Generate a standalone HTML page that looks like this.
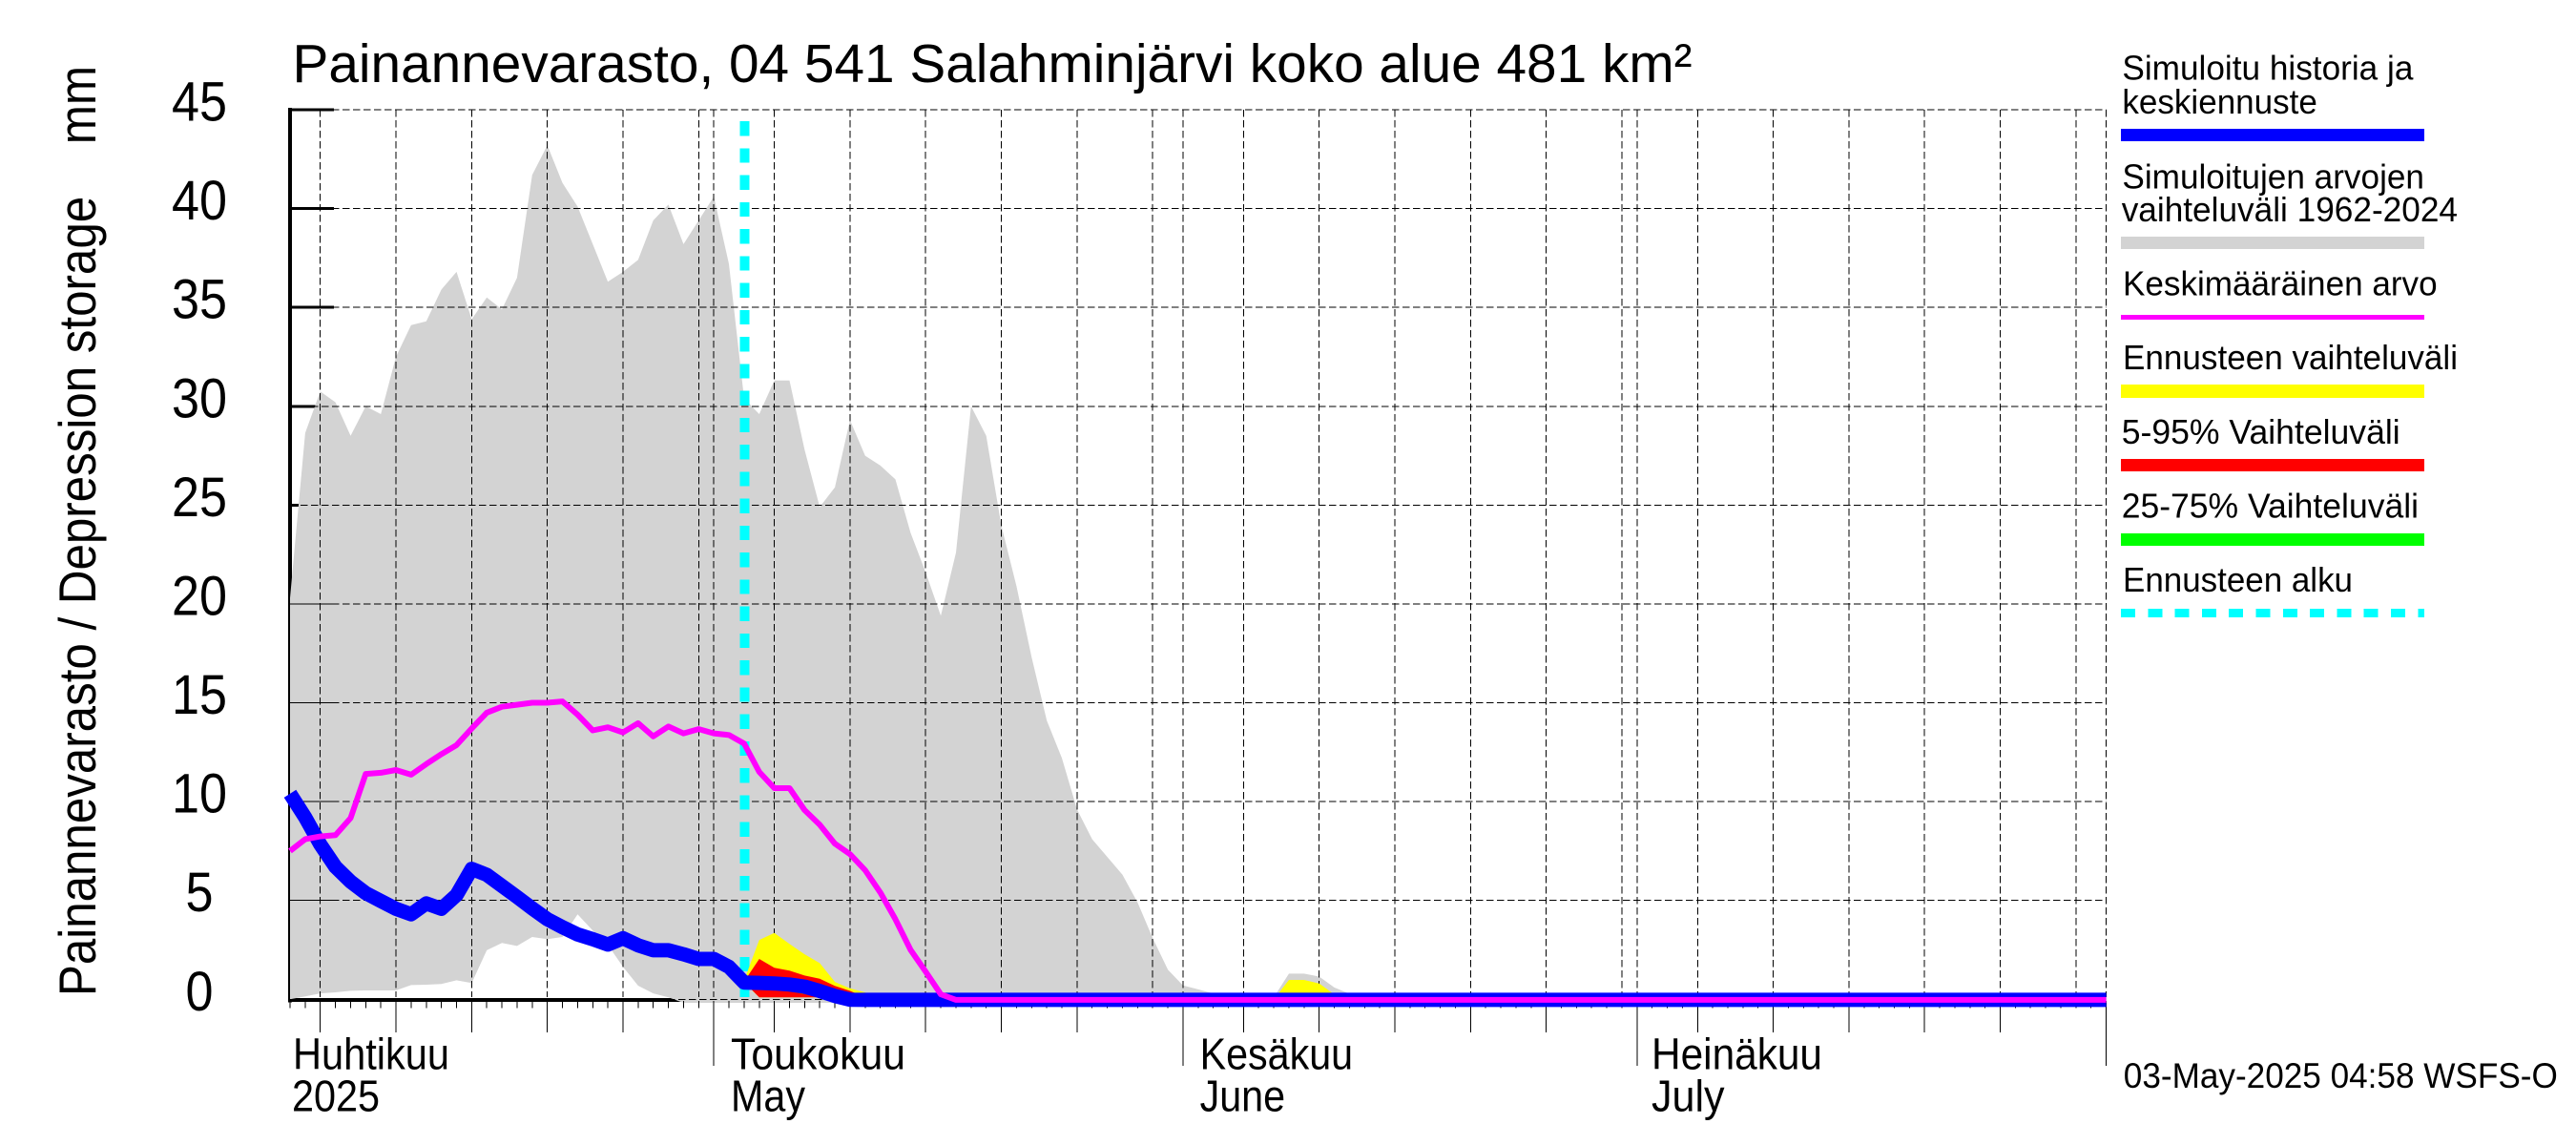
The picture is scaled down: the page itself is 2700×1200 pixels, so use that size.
<!DOCTYPE html>
<html lang="fi">
<head>
<meta charset="utf-8">
<title>Painannevarasto, 04 541 Salahminjärvi koko alue 481 km²</title>
<style>
html,body{margin:0;padding:0;background:#fff;}
svg{display:block;}
text{font-family:"Liberation Sans",Arial,sans-serif;fill:#000;white-space:pre;}
</style>
</head>
<body>
<svg id="chart" xmlns="http://www.w3.org/2000/svg" width="2700" height="1200" viewBox="0 0 2700 1200">
  <rect x="0" y="0" width="2700" height="1200" fill="#fff"/>
  <g id="axes-under"></g>
  <g id="range-layer"></g>
  <g id="grid-layer"></g>
  <g id="forecast-start-layer"></g>
  <g id="forecast-layer"></g>
  <g id="series-layer"></g>
  <g id="label-layer"></g>

  <text x="306.5" y="86" font-size="57" textLength="1467" lengthAdjust="spacingAndGlyphs">Painannevarasto, 04 541 Salahminjärvi koko alue 481 km²</text>
  <text x="100" y="1044" font-size="55" transform="rotate(-90 100 1044)" textLength="975" lengthAdjust="spacingAndGlyphs">Painannevarasto / Depression storage    mm</text>

  <g font-size="46">
    <text x="307" y="1120.5" textLength="164" lengthAdjust="spacingAndGlyphs">Huhtikuu</text>
    <text x="306" y="1164.5" textLength="92" lengthAdjust="spacingAndGlyphs">2025</text>
    <text x="766" y="1120.5" textLength="183" lengthAdjust="spacingAndGlyphs">Toukokuu</text>
    <text x="766" y="1164.5" textLength="78" lengthAdjust="spacingAndGlyphs">May</text>
    <text x="1257.6" y="1120.5" textLength="160.5" lengthAdjust="spacingAndGlyphs">Kesäkuu</text>
    <text x="1257.6" y="1164.5" textLength="89.5" lengthAdjust="spacingAndGlyphs">June</text>
    <text x="1731" y="1120.5" textLength="179" lengthAdjust="spacingAndGlyphs">Heinäkuu</text>
    <text x="1731" y="1164.5" textLength="76.6" lengthAdjust="spacingAndGlyphs">July</text>
  </g>
  <text x="2225.8" y="1140" font-size="37" textLength="455" lengthAdjust="spacingAndGlyphs">03-May-2025 04:58 WSFS-O</text>

  <g font-size="36">
    <g>
      <text x="2224.4" y="83.7" textLength="305" lengthAdjust="spacingAndGlyphs">Simuloitu historia ja</text>
      <text x="2224.4" y="118.8" textLength="204.5" lengthAdjust="spacingAndGlyphs">keskiennuste</text>
      <rect x="2223" y="135" width="318" height="13" fill="#0000ff" shape-rendering="crispEdges"/>
    </g>
    <g>
      <text x="2224.4" y="197.3" textLength="316.6" lengthAdjust="spacingAndGlyphs">Simuloitujen arvojen</text>
      <text x="2223.7" y="232" textLength="352.3" lengthAdjust="spacingAndGlyphs">vaihteluväli 1962-2024</text>
      <rect x="2223" y="248" width="318" height="13" fill="#d3d3d3" shape-rendering="crispEdges"/>
    </g>
    <g>
      <text x="2225" y="309.6" textLength="329.6" lengthAdjust="spacingAndGlyphs">Keskimääräinen arvo</text>
      <rect x="2223" y="330" width="318" height="5" fill="#ff00ff" shape-rendering="crispEdges"/>
    </g>
    <g>
      <text x="2225" y="387" textLength="351" lengthAdjust="spacingAndGlyphs">Ennusteen vaihteluväli</text>
      <rect x="2223" y="403" width="318" height="14" fill="#ffff00" shape-rendering="crispEdges"/>
    </g>
    <g>
      <text x="2223.7" y="464.9" textLength="292" lengthAdjust="spacingAndGlyphs">5-95% Vaihteluväli</text>
      <rect x="2223" y="481" width="318" height="13" fill="#ff0000" shape-rendering="crispEdges"/>
    </g>
    <g>
      <text x="2223.7" y="542.5" textLength="311.3" lengthAdjust="spacingAndGlyphs">25-75% Vaihteluväli</text>
      <rect x="2223" y="559" width="318" height="13" fill="#00ff00" shape-rendering="crispEdges"/>
    </g>
    <g>
      <text x="2225" y="620" textLength="241" lengthAdjust="spacingAndGlyphs">Ennusteen alku</text>
      <line x1="2223" y1="642.5" x2="2541" y2="642.5" stroke="#00ffff" stroke-width="9" stroke-dasharray="15 13.3" shape-rendering="crispEdges"/>
    </g>
  </g>
</svg>

<script>
// ---- axis values ----
const yTickValues = [0, 5, 10, 15, 20, 25, 30, 35, 40, 45];
const yTickLabels = ["0", "5", "10", "15", "20", "25", "30", "35", "40", "45"];
const dayCount = 120;
const gridDays = [2, 7, 12, 17, 22, 27, 28, 32, 37, 42, 47, 52, 57, 59, 63, 68, 73, 78, 83, 88, 89, 93, 98, 103, 108, 113, 118, 120];
const majorTickDays = [2, 7, 12, 17, 22, 32, 37, 42, 47, 52, 63, 68, 73, 78, 83, 93, 98, 103, 108, 113];
const monthTickDays = [28, 59, 89, 120];
const forecastStartDay = 30.05;

// ---- series values, one per day starting 3 April ----
const rangeUpper = [20.3, 28.65, 30.75, 30.2, 28.5, 30.0, 29.6, 32.5, 34.1, 34.3,
  35.9, 36.8, 34.4, 35.5, 34.9, 36.5, 41.7, 43.2, 41.3, 40.1,
  38.2, 36.3, 36.8, 37.4, 39.4, 40.2, 38.2, 39.4, 40.6, 37.2,
  30.4, 29.6, 31.3, 31.3, 27.8, 24.9, 25.9, 29.3, 27.5, 27.0,
  26.3, 23.6, 21.6, 19.4, 22.6, 30.0, 28.5, 23.95, 20.9, 17.3,
  14.1, 12.2, 9.6, 8.1, 7.2, 6.3, 4.9, 3.1, 1.5, 0.7,
  0.5, 0.3, 0.05, 0, 0, 0.1, 1.3, 1.3, 1.15, 0.6,
  0.28, 0, 0];
const rangeLower = [0, 0.15, 0.3, 0.35, 0.43, 0.45, 0.45, 0.45, 0.72, 0.74,
  0.77, 0.96, 0.82, 2.48, 2.85, 2.7, 3.15, 3.04, 3.15, 4.3,
  3.48, 2.75, 1.64, 0.69, 0.3, 0.1, -0.18, -0.18, -0.18, -0.18,
  -0.18, -0.18, -0.18, -0.18, -0.18, -0.18, -0.18, -0.18, -0.18, -0.18,
  -0.18, -0.18, -0.18, -0.18, -0.18, -0.18, -0.18, -0.18, -0.18, -0.18,
  -0.18, -0.18, -0.18, -0.18, -0.18, -0.18, -0.18, -0.18, -0.18, -0.18,
  -0.18, -0.18, -0.18, -0.18, -0.18, -0.18, -0.18, -0.18, -0.18, -0.18,
  -0.18, -0.18, -0.18];
const meanValues = [7.5, 8.1, 8.24, 8.3, 9.17, 11.4, 11.46, 11.6, 11.36, 11.9,
  12.4, 12.86, 13.7, 14.5, 14.8, 14.9, 15.0, 15.0, 15.07, 14.4,
  13.6, 13.76, 13.5, 13.97, 13.3, 13.8, 13.45, 13.67, 13.45, 13.37,
  12.94, 11.5, 10.68, 10.68, 9.57, 8.83, 7.87, 7.34, 6.53, 5.4,
  4.05, 2.5, 1.4, 0.25, -0.03, -0.03, -0.03, -0.03, -0.03, -0.03,
  -0.03, -0.03, -0.03, -0.03, -0.03, -0.03, -0.03, -0.03, -0.03, -0.03,
  -0.03, -0.03, -0.03, -0.03, -0.03, -0.03, -0.03, -0.03, -0.03, -0.03,
  -0.03, -0.03, -0.03, -0.03, -0.03, -0.03, -0.03, -0.03, -0.03, -0.03,
  -0.03, -0.03, -0.03, -0.03, -0.03, -0.03, -0.03, -0.03, -0.03, -0.03,
  -0.03, -0.03, -0.03, -0.03, -0.03, -0.03, -0.03, -0.03, -0.03, -0.03,
  -0.03, -0.03, -0.03, -0.03, -0.03, -0.03, -0.03, -0.03, -0.03, -0.03,
  -0.03, -0.03, -0.03, -0.03, -0.03, -0.03, -0.03, -0.03, -0.03, -0.03, -0.03];
const historyValues = [10.4, 9.2, 7.84, 6.7, 5.95, 5.37, 4.97, 4.58, 4.3, 4.85,
  4.58, 5.27, 6.6, 6.3, 5.74, 5.18, 4.6, 4.05, 3.65, 3.28,
  3.04, 2.77, 3.09, 2.73, 2.48, 2.48, 2.28, 2.04, 2.04, 1.64,
  0.85, 0.83, 0.8, 0.75, 0.64, 0.42, 0.17, -0.02, -0.03, -0.03,
  -0.03, -0.03, -0.03, -0.03, -0.03, -0.03, -0.03, -0.03, -0.03, -0.03,
  -0.03, -0.03, -0.03, -0.03, -0.03, -0.03, -0.03, -0.03, -0.03, -0.03,
  -0.03, -0.03, -0.03, -0.03, -0.03, -0.03, -0.03, -0.03, -0.03, -0.03,
  -0.03, -0.03, -0.03, -0.03, -0.03, -0.03, -0.03, -0.03, -0.03, -0.03,
  -0.03, -0.03, -0.03, -0.03, -0.03, -0.03, -0.03, -0.03, -0.03, -0.03,
  -0.03, -0.03, -0.03, -0.03, -0.03, -0.03, -0.03, -0.03, -0.03, -0.03,
  -0.03, -0.03, -0.03, -0.03, -0.03, -0.03, -0.03, -0.03, -0.03, -0.03,
  -0.03, -0.03, -0.03, -0.03, -0.03, -0.03, -0.03, -0.03, -0.03, -0.03, -0.03];

// ---- forecast bands ----
const bandDays = [30, 31, 32, 33, 34, 35, 36, 37, 38, 39];
const yellowUpper = [0.95, 3.0, 3.36, 2.8, 2.28, 1.83, 0.88, 0.55, 0.35, 0];
const yellowLower = [0.85, 0.1, 0.1, 0.1, 0.1, 0.1, 0.05, 0, 0, 0];
const redUpper = [0.9, 2.04, 1.6, 1.45, 1.2, 1.04, 0.68, 0.43, 0.1, 0];
const redLower = [0.87, 0.1, 0.1, 0.1, 0.1, 0.1, 0.05, 0, 0, 0];
const greenUpper = [0.85, 0.9, 0.9, 0.85, 0.75, 0.55, 0.25, 0, 0, 0];
const greenLower = [0.85, 0.75, 0.55, 0.4, 0.27, 0.1, 0.05, 0, 0, 0];
const bumpDays = [65, 66, 67, 68, 69, 70];
const bumpUpper = [0, 0.98, 0.98, 0.8, 0.25, 0];
const bumpLower = [0, 0, 0, 0, 0, 0];

// ---- scales ----
const NS = 'http://www.w3.org/2000/svg';
function xDay(d) { return 304 + d * 15.863; }
function yVal(v) { return 1047.3 - v * 20.718; }
function mk(parentId, tag) {
  const el = document.createElementNS(NS, tag);
  document.getElementById(parentId).appendChild(el);
  return el;
}
function setLine(el, x1, y1, x2, y2, width, color) {
  el.setAttribute('x1', x1); el.setAttribute('y1', y1);
  el.setAttribute('x2', x2); el.setAttribute('y2', y2);
  el.setAttribute('stroke', color); el.setAttribute('stroke-width', width);
  el.setAttribute('shape-rendering', 'crispEdges');
}
function bandPoints(days, upper, lower) {
  const pts = [];
  for (let i = 0; i < days.length; i++) pts.push(xDay(days[i]).toFixed(1) + ',' + yVal(upper[i]).toFixed(1));
  for (let i = days.length - 1; i >= 0; i--) pts.push(xDay(days[i]).toFixed(1) + ',' + yVal(lower[i]).toFixed(1));
  return pts.join(' ');
}
function linePoints(values) {
  return values.map(function (v, i) { return xDay(i).toFixed(1) + ',' + yVal(v).toFixed(1); }).join(' ');
}

// ---- axes beneath the range polygon ----
const yAxisLine = mk('axes-under', 'line');


setLine(yAxisLine, 304, yVal(45) - 2, 304, yVal(0) + 3, 4, '#000');

const xAxisLine = mk('axes-under', 'line');


setLine(xAxisLine, xDay(0), 1048, xDay(dayCount), 1048, 4, '#000');

yTickValues.forEach(function (v) {
  const tick = mk('axes-under', 'line');
  
  
  setLine(tick, 304, yVal(v), 350, yVal(v), 3, '#000');
});

// ---- simulated range ----
const rangeArea = mk('range-layer', 'polygon');


rangeArea.setAttribute('fill', '#d3d3d3');
rangeArea.setAttribute('points', bandPoints(rangeUpper.map(function (_, i) { return i; }), rangeUpper, rangeLower));

// ---- grid ----
yTickValues.forEach(function (v) {
  const g = mk('grid-layer', 'line');
  
  
  setLine(g, 304, yVal(v), xDay(dayCount), yVal(v), 1, '#000');
  g.setAttribute('stroke-dasharray', '7.5 3.5');
  if (v <= 20) {
    const t = mk('grid-layer', 'line');
    
    
    setLine(t, 304, yVal(v), 350, yVal(v), 1, '#000');
  }
});
gridDays.forEach(function (d) {
  const g = mk('grid-layer', 'line');
  
  
  setLine(g, xDay(d), 115, xDay(d), 1045, 1, '#000');
  g.setAttribute('stroke-dasharray', '7.5 3.5');
});

// ---- x ticks ----
for (let d = 0; d <= dayCount; d++) {
  const t = mk('grid-layer', 'line');
  
  
  setLine(t, xDay(d), 1049, xDay(d), 1056.7, 1, '#000');
}
majorTickDays.forEach(function (d) {
  const t = mk('grid-layer', 'line');
  
  
  setLine(t, xDay(d), 1049, xDay(d), 1082, 1, '#000');
});
monthTickDays.forEach(function (d) {
  const t = mk('grid-layer', 'line');
  
  
  setLine(t, xDay(d), 1049, xDay(d), 1117, 1, '#000');
});

// ---- forecast start ----
const startLine = mk('forecast-start-layer', 'line');


setLine(startLine, xDay(forecastStartDay), 127, xDay(forecastStartDay), 1045, 10, '#00ffff');
startLine.setAttribute('stroke-dasharray', '15.3 12.95');

// ---- forecast bands ----
const yellowBand = mk('forecast-layer', 'polygon');


yellowBand.setAttribute('fill', '#ffff00');
yellowBand.setAttribute('points', bandPoints(bandDays, yellowUpper, yellowLower));

const bumpBand = mk('forecast-layer', 'polygon');


bumpBand.setAttribute('fill', '#ffff00');
bumpBand.setAttribute('points', bandPoints(bumpDays, bumpUpper, bumpLower));

const redBand = mk('forecast-layer', 'polygon');


redBand.setAttribute('fill', '#ff0000');
redBand.setAttribute('points', bandPoints(bandDays, redUpper, redLower));

const greenBand = mk('forecast-layer', 'polygon');


greenBand.setAttribute('fill', '#00ff00');
greenBand.setAttribute('points', bandPoints(bandDays, greenUpper, greenLower));

// ---- lines ----
const historyLine = mk('series-layer', 'polyline');


historyLine.setAttribute('fill', 'none');
historyLine.setAttribute('stroke', '#0000ff');
historyLine.setAttribute('stroke-width', '15');
historyLine.setAttribute('stroke-linejoin', 'round');
historyLine.setAttribute('points', linePoints(historyValues));

const meanLine = mk('series-layer', 'polyline');


meanLine.setAttribute('fill', 'none');
meanLine.setAttribute('stroke', '#ff00ff');
meanLine.setAttribute('stroke-width', '6');
meanLine.setAttribute('stroke-linejoin', 'round');
meanLine.setAttribute('points', linePoints(meanValues));

// ---- y tick labels ----
yTickValues.forEach(function (v, i) {
  const t = mk('label-layer', 'text');
  
  
  t.setAttribute('x', 209);
  t.setAttribute('y', yVal(v) + 11.5);
  t.setAttribute('font-size', '58');
  t.setAttribute('text-anchor', 'middle');
  t.setAttribute('textLength', yTickLabels[i].length * 29);
  t.setAttribute('lengthAdjust', 'spacingAndGlyphs');
  t.textContent = yTickLabels[i];
});
</script>
</body>
</html>
